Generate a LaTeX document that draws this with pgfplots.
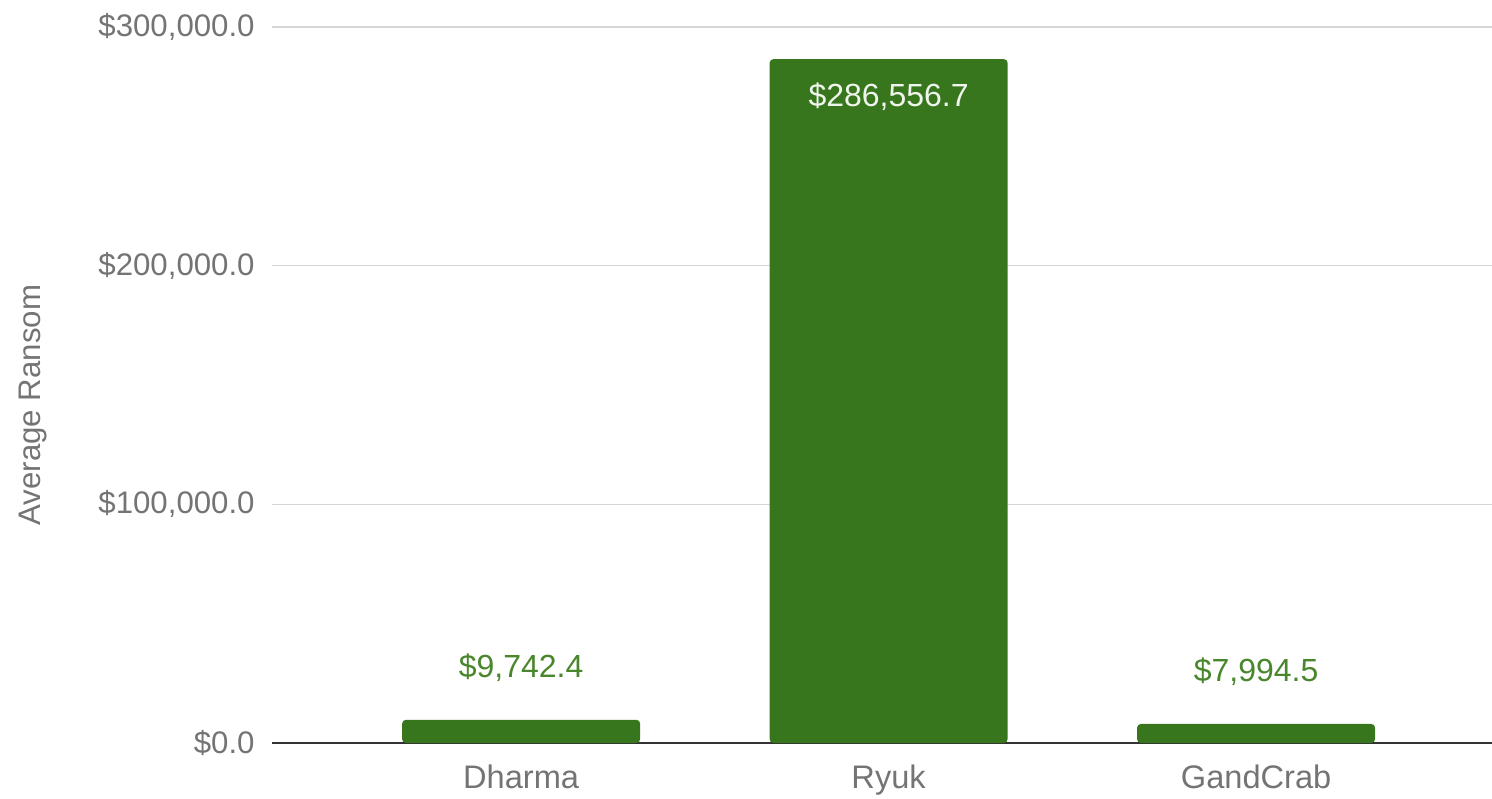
\documentclass[border=0pt]{standalone}
\usepackage{pgfplots}
\pgfplotsset{compat=1.18}
\usepackage{fontspec}
\setmainfont{Liberation Sans}
\definecolor{bargreen}{HTML}{38761D}
\definecolor{lblgreen}{HTML}{4A862C}
\definecolor{tickgray}{HTML}{747474}
\definecolor{gridgray}{HTML}{D6D6D6}
\begin{document}
\begin{tikzpicture}
\path[use as bounding box] (-136pt,-27.5pt) rectangle (610pt,371.5pt);
\begin{axis}[
  at={(0,0)}, anchor=south west,
  scale only axis, width=610pt, height=358pt,
  xmin=-0.678, xmax=2.642,
  ymin=0, ymax=300000,
  axis x line*=bottom, axis y line*=left,
  x axis line style={draw=black!80, line width=0.9pt, -},
  y axis line style={draw=none},
  xtick={0,1,2}, xticklabels={Dharma,Ryuk,GandCrab},
  ytick={0,100000,200000,300000},
  yticklabels={{\$0.0},{\$100,000.0},{\$200,000.0},{\$300,000.0}},
  scaled y ticks=false,
  major tick length=0pt,
  ymajorgrids, grid style={gridgray, line width=0.7pt},
  yticklabel style={font=\fontsize{15.6}{17}\selectfont, text=tickgray, anchor=east, inner sep=0pt, xshift=-8.5pt},
  xticklabel style={font=\fontsize{16.3}{18}\selectfont, text=tickgray, anchor=base, inner sep=0pt, yshift=-22.5pt},
  ylabel={Average Ransom},
  ylabel style={font=\fontsize{15.6}{17}\selectfont, text=tickgray, at={(axis description cs:-0.196,0.472)}, anchor=center},
  bar width=0.648,
  point meta=explicit symbolic,
  nodes near coords,
  every node near coord/.append style={font=\fontsize{16}{18}\selectfont, anchor=center},
]
\addplot[ybar, fill=bargreen, draw=none, rounded corners=2pt, bar shift=0pt,
  every node near coord/.append style={text=lblgreen, yshift=26pt}]
  coordinates {(0,9742.4) [\$9,742.4] (2,7994.5) [\$7,994.5]};
\addplot[ybar, fill=bargreen, draw=none, rounded corners=2pt, bar shift=0pt,
  every node near coord/.append style={text=white!92!bargreen, yshift=-19pt}]
  coordinates {(1,286556.7) [\$286,556.7]};
\end{axis}
\end{tikzpicture}
\end{document}
